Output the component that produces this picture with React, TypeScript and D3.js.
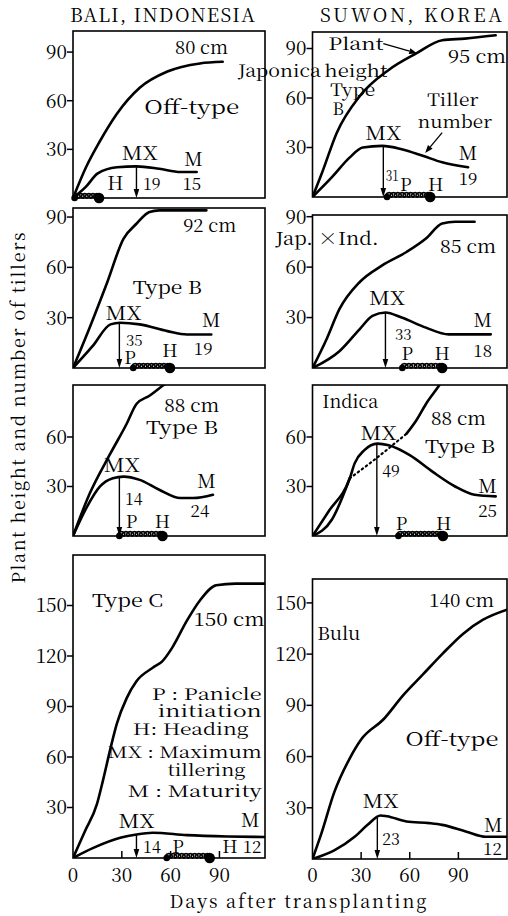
import React from "react";
import * as d3 from "d3";

// days after transplanting / plant height (cm) / tiller number

// Bali, off-type
const baliOffHeightDays = [0, 8, 16.5, 27, 41, 58, 78, 92];
const baliOffHeight = [0, 19, 35, 52, 68, 78, 83, 84];
const baliOffTillerDays = [0, 8, 15, 27, 39, 53, 66, 76];
const baliOffTiller = [0, 7, 15, 19, 19.5, 18, 16, 16];

// Suwon, Japonica type B
const japHeightDays = [0, 6, 15, 29, 47, 64, 80, 94, 113];
const japHeight = [0, 15, 39, 61, 77, 87, 95, 96, 98];
const japTillerDays = [0, 12, 23, 31, 43, 55, 68, 80, 96];
const japTiller = [0, 12, 24, 30, 31, 29, 25, 21, 18];

// Bali, type B (92 cm)
const baliB1HeightDays = [0, 10.4, 21, 31, 39, 47, 53, 82];
const baliB1Height = [0, 24.5, 51, 77, 86, 93, 94, 94];
const baliB1TillerDays = [0, 12, 23, 29, 41, 58, 70, 85];
const baliB1Tiller = [0, 13, 26, 27, 26, 22, 20, 20];

// Suwon, Jap. x Ind.
const jxiHeightDays = [0, 8.6, 16.6, 29, 43, 58, 70, 80, 88, 100];
const jxiHeight = [0, 17, 35, 51, 61, 69, 77, 86, 87, 87];
const jxiTillerDays = [0, 16.6, 29, 37, 45, 55, 70, 84, 110];
const jxiTiller = [0, 10, 23, 31, 33, 30, 24, 20, 20];

// Bali, type B (88 cm)
const baliB2HeightDays = [0, 10.4, 23, 33, 39, 47, 55, 62];
const baliB2Height = [0, 26, 50, 68, 80, 85, 91, 96];
const baliB2TillerDays = [0, 8.5, 16.6, 24.5, 31, 41, 53, 66, 74, 86];
const baliB2Tiller = [0, 17.5, 30, 35, 36, 34, 28, 23, 23, 25];

// Suwon, Indica type B (height dotted between 23 and 58 days)
const indHeightDays = [0, 12, 23, 36.6, 58, 64, 70, 78, 84];
const indHeight = [0, 10, 35, 45, 62, 70, 80, 91, 100];
const indTillerDays = [0, 10, 23, 26, 32, 40, 47, 60, 74, 88, 100, 113];
const indTiller = [0, 15, 35, 44, 52, 56, 55, 49, 39, 30, 25, 24];

// Bali, type C
const baliCHeightDays = [0, 7.4, 14.7, 18.4, 23, 27, 33, 39, 49, 55, 61, 70, 78, 88, 100, 118];
const baliCHeight = [0, 16, 32, 46, 65, 80, 95, 105, 113, 117, 125, 141, 153, 162, 163, 163];
const baliCTillerDays = [0, 12.5, 29, 39, 49, 70, 95, 118];
const baliCTiller = [0, 6, 12, 14, 15, 13.6, 12.8, 12.5];

// Suwon, Bulu off-type
const buluHeightDays = [0, 5.5, 13.4, 23, 30, 44, 56, 68, 80, 93, 105, 120];
const buluHeight = [0, 15, 39, 59, 70, 82, 96, 108, 120, 132, 140, 146];
const buluTillerDays = [0, 13.4, 26, 34, 42, 46, 58, 72, 80, 95, 107, 120];
const buluTiller = [0, 5, 13, 20, 25.5, 25, 22, 21, 20, 16, 13, 13];

// growth stages (days): maximum tillering, panicle initiation, heading
const mxDays = [39, 43.7, 28.5, 45, 28.5, 39.7, 39, 40];
const pDays = [1, 46, 37, 55.4, 28.5, 53, 57.6, null];
const hDays = [16, 72.6, 59.6, 80, 55, 80.5, 84, null];

const xTicks = [0, 30, 60, 90];

type Label = [string, number, number, "start" | "middle" | "end", number, number?];

interface Panel {
  col: number;
  top: number;
  bottom: number;
  ymax: number;
  ticks: number[];
  hd: number[];
  hv: number[];
  td: number[];
  tv: number[];
  labels: Label[];
  dotted?: [number, number];
  pointers?: [number, number][][];
  xAxis?: boolean;
}

const colX = [[73, 265], [312.5, 507]];
const colDays = [118, 120];
const FONT = "Noto Serif CJK JP";

const panels: Panel[] = [
  {
    col: 0, top: 31, bottom: 198, ymax: 103, ticks: [30, 60, 90],
    hd: baliOffHeightDays, hv: baliOffHeight, td: baliOffTillerDays, tv: baliOffTiller,
    labels: [
      ["80 cm", 79, 89, "middle", 18, 53],
      ["Off-type", 73, 52, "middle", 19, 95],
      ["MX", 41, 23.4, "middle", 19, 36],
      ["19", 43, 5, "start", 16],
      ["M", 74, 20, "middle", 19],
      ["15", 73, 5, "middle", 17],
      ["H", 26, 5, "middle", 19],
    ],
  },
  {
    col: 1, top: 32, bottom: 197, ymax: 100, ticks: [30, 60, 90],
    hd: japHeightDays, hv: japHeight, td: japTillerDays, tv: japTiller,
    labels: [
      ["Japonica", -46, 72.7, "start", 17, 83],
      ["Plant", 9.8, 89, "start", 17, 55],
      ["height", 7.3, 73, "start", 17, 63],
      ["Type", 11, 61.5, "start", 17, 45],
      ["B", 12.3, 49.5, "start", 17],
      ["Tiller", 70.8, 55, "start", 17, 51],
      ["number", 65, 42, "start", 17, 74],
      ["95 cm", 101.5, 81, "middle", 18, 58],
      ["MX", 43.7, 34.5, "middle", 19, 36],
      ["31", 45.2, 10, "start", 15, 13],
      ["P", 57.5, 3.5, "middle", 18],
      ["H", 76, 3.5, "middle", 18],
      ["M", 96, 22.4, "middle", 19],
      ["19", 96, 7.3, "middle", 17],
    ],
    pointers: [[[43.7, 93], [64.6, 87]], [[80, 39], [69.5, 26.7]]],
  },
  {
    col: 0, top: 208, bottom: 368, ymax: 95.4, ticks: [30, 60, 90],
    hd: baliB1HeightDays, hv: baliB1Height, td: baliB1TillerDays, tv: baliB1Tiller,
    labels: [
      ["92 cm", 84, 81, "middle", 18, 53],
      ["Type B", 58, 44, "middle", 18, 69],
      ["MX", 31, 28.6, "middle", 19, 36],
      ["35", 32.6, 13, "start", 15],
      ["P", 35, 2.5, "middle", 18],
      ["H", 59.6, 6.5, "middle", 18],
      ["M", 85, 24.4, "middle", 19],
      ["19", 80, 7.7, "middle", 17],
    ],
  },
  {
    col: 1, top: 215, bottom: 368, ymax: 91, ticks: [30, 60, 90],
    hd: jxiHeightDays, hv: jxiHeight, td: jxiTillerDays, tv: jxiTiller,
    labels: [
      ["Jap. ×Ind.", -22.8, 73, "start", 18, 103],
      ["85 cm", 96, 68.5, "middle", 18, 56],
      ["MX", 46, 37.5, "middle", 19, 36],
      ["33", 56, 16.5, "middle", 15],
      ["P", 58.5, 5, "middle", 18],
      ["H", 80, 5, "middle", 18],
      ["M", 105, 24.4, "middle", 19],
      ["18", 105, 6.5, "middle", 17],
    ],
  },
  {
    col: 0, top: 385, bottom: 536, ymax: 91.5, ticks: [30, 60],
    hd: baliB2HeightDays, hv: baliB2Height, td: baliB2TillerDays, tv: baliB2Tiller,
    labels: [
      ["88 cm", 73, 75, "middle", 18, 55],
      ["Type B", 67, 62, "middle", 18, 72],
      ["MX", 30, 39, "middle", 19, 36],
      ["14", 32, 19, "start", 16],
      ["P", 36, 5, "middle", 18],
      ["H", 55, 5, "middle", 18],
      ["M", 82, 29, "middle", 19],
      ["24", 78, 11.5, "middle", 17],
    ],
  },
  {
    col: 1, top: 385, bottom: 536, ymax: 91.5, ticks: [30, 60],
    hd: indHeightDays, hv: indHeight, td: indTillerDays, tv: indTiller,
    dotted: [23, 58],
    labels: [
      ["Indica", 6, 77.6, "start", 18, 56],
      ["88 cm", 90, 67, "middle", 18, 55],
      ["Type B", 91, 50, "middle", 18, 70],
      ["MX", 40.7, 58, "middle", 19, 36],
      ["49", 43, 36, "start", 16],
      ["P", 55, 3.6, "middle", 18],
      ["H", 81, 3.6, "middle", 18],
      ["M", 108, 26, "middle", 19],
      ["25", 108, 11.5, "middle", 17],
    ],
  },
  {
    col: 0, top: 555, bottom: 858, ymax: 180, ticks: [30, 60, 90, 120, 150], xAxis: true,
    hd: baliCHeightDays, hv: baliCHeight, td: baliCTillerDays, tv: baliCTiller,
    labels: [
      ["Type C", 11.7, 149, "start", 18, 71],
      ["150 cm", 74, 138, "start", 18, 71],
      ["P : Panicle", 116, 93.6, "end", 16, 110],
      ["initiation", 116, 83.6, "end", 16, 104],
      ["H: Heading", 108, 73, "end", 16, 116],
      ["MX : Maximum", 116, 59.3, "end", 16, 154],
      ["tillering", 106, 49, "end", 16, 78],
      ["M : Maturity", 116, 36, "end", 16, 134],
      ["MX", 39, 17.8, "middle", 19, 36],
      ["14", 48.5, 3, "middle", 16],
      ["P", 64.5, 3, "middle", 18],
      ["H", 96.5, 3, "middle", 18],
      ["12", 110, 3, "middle", 17],
      ["M", 109, 18.4, "middle", 19],
    ],
  },
  {
    col: 1, top: 579, bottom: 859, ymax: 164, ticks: [30, 60, 90, 120, 150], xAxis: true,
    hd: buluHeightDays, hv: buluHeight, td: buluTillerDays, tv: buluTiller,
    labels: [
      ["140 cm", 92, 147.6, "middle", 18, 65],
      ["Bulu", 3, 128, "start", 18, 43],
      ["Off-type", 86, 66, "middle", 19, 93],
      ["MX", 42, 30, "middle", 19, 36],
      ["23", 43, 8, "start", 16],
      ["M", 111.5, 16, "middle", 19],
      ["12", 111, 2.3, "middle", 17],
    ],
  },
];

function interp(ds: number[], vs: number[], d: number) {
  for (let i = 0; i < ds.length - 1; i++) {
    if (d >= ds[i] && d <= ds[i + 1]) {
      const t = (d - ds[i]) / (ds[i + 1] - ds[i]);
      return vs[i] + t * (vs[i + 1] - vs[i]);
    }
  }
  return vs[vs.length - 1];
}

// coiled line between panicle initiation and heading
function coil(xa: number, xb: number, y0: number) {
  const n = Math.max(1, Math.round((xb - xa) / 4.2));
  const r = 2.2;
  const pts: [number, number][] = d3.range(0, n * 24 + 1).map((k) => {
    const th = (k / 24) * Math.PI * 2;
    return [xa + ((xb - xa) * th) / (Math.PI * 2 * n) - r * Math.sin(th), y0 - r * (1 - Math.cos(th))];
  });
  return d3.line()(pts) || "";
}

function PanelView({ pn, idx }: { pn: Panel; idx: number }) {
  const [x0, x1] = colX[pn.col];
  const x = d3.scaleLinear().domain([0, colDays[pn.col]]).range([x0, x1]);
  const y = d3.scaleLinear().domain([0, pn.ymax]).range([pn.bottom, pn.top]);
  const line = d3
    .line<[number, number]>()
    .x((d) => x(d[0]))
    .y((d) => y(d[1]))
    .curve(d3.curveMonotoneX);

  const hPts: [number, number][] = pn.hd.map((d, i) => [d, pn.hv[i]]);
  const tPts: [number, number][] = pn.td.map((d, i) => [d, pn.tv[i]]);

  const heightPaths: { d: string; dotted: boolean }[] = [];
  if (pn.dotted) {
    const [a, b] = pn.dotted;
    heightPaths.push({ d: line(hPts.filter((p) => p[0] <= a)) || "", dotted: false });
    heightPaths.push({ d: line(hPts.filter((p) => p[0] >= a && p[0] <= b)) || "", dotted: true });
    heightPaths.push({ d: line(hPts.filter((p) => p[0] >= b)) || "", dotted: false });
  } else {
    heightPaths.push({ d: line(hPts) || "", dotted: false });
  }

  const mx = mxDays[idx];
  const mxX = x(mx);
  const mxY = y(interp(pn.td, pn.tv, mx));
  const p = pDays[idx];
  const h = hDays[idx];
  const clipId = `clip${idx}`;

  return (
    <g>
      <defs>
        <clipPath id={clipId}>
          <rect x={x0} y={pn.top} width={x1 - x0} height={pn.bottom - pn.top} />
        </clipPath>
      </defs>
      <rect x={x0} y={pn.top} width={x1 - x0} height={pn.bottom - pn.top} fill="none" stroke="#000" strokeWidth={1.6} />
      {pn.ticks.map((t) => (
        <g key={t}>
          <line x1={x0 - 6} x2={x0} y1={y(t)} y2={y(t)} stroke="#000" strokeWidth={1.5} />
          <text x={x0 - 6} y={y(t)} dy="0.36em" textAnchor="end" fontSize={19} fontFamily={FONT}>
            {t}
          </text>
        </g>
      ))}
      {pn.xAxis &&
        xTicks.map((t) => (
          <g key={"x" + t}>
            {t > 0 && <line x1={x(t)} x2={x(t)} y1={pn.bottom} y2={pn.bottom - 7} stroke="#000" strokeWidth={1.5} />}
            <text x={x(t)} y={882} textAnchor="middle" fontSize={19} fontFamily={FONT}>
              {t}
            </text>
          </g>
        ))}
      <g clipPath={`url(#${clipId})`}>
        {heightPaths.map((hp, i) => (
          <path
            key={i}
            d={hp.d}
            fill="none"
            stroke="#000"
            strokeWidth={hp.dotted ? 2.2 : 2.6}
            strokeDasharray={hp.dotted ? "1.5 3.5" : undefined}
            strokeLinecap="round"
          />
        ))}
        <path d={line(tPts) || ""} fill="none" stroke="#000" strokeWidth={2.6} strokeLinecap="round" />
      </g>
      {/* maximum tillering arrow */}
      <line x1={mxX} x2={mxX} y1={mxY} y2={pn.bottom - 7} stroke="#000" strokeWidth={1.4} />
      <polygon points={`${mxX - 2.8},${pn.bottom - 9} ${mxX + 2.8},${pn.bottom - 9} ${mxX},${pn.bottom}`} fill="#000" />
      {p !== null && h !== null && (
        <g>
          <path d={coil(x(p), x(h), pn.bottom)} fill="none" stroke="#000" strokeWidth={1.6} />
          <circle cx={x(p)} cy={pn.bottom} r={3.3} fill="#000" />
          <circle cx={x(h)} cy={pn.bottom} r={5.3} fill="#000" />
        </g>
      )}
      {pn.pointers &&
        pn.pointers.map((seg, i) => {
          const [a, b] = seg;
          const ax = x(a[0]), ay = y(a[1]), bx = x(b[0]), by = y(b[1]);
          const ang = Math.atan2(by - ay, bx - ax);
          const L = 8, W = 3;
          const bx0 = bx - L * Math.cos(ang), by0 = by - L * Math.sin(ang);
          const px = -Math.sin(ang) * W, py = Math.cos(ang) * W;
          return (
            <g key={"ptr" + i}>
              <line x1={ax} y1={ay} x2={bx0} y2={by0} stroke="#000" strokeWidth={1.3} />
              <polygon points={`${bx},${by} ${bx0 + px},${by0 + py} ${bx0 - px},${by0 - py}`} fill="#000" />
            </g>
          );
        })}
      {pn.labels.map(([txt, d, v, anchor, size, len], i) => (
        <text
          key={"l" + i}
          x={x(d)}
          y={y(v)}
          textAnchor={anchor}
          fontSize={size}
          fontFamily={FONT}
          textLength={len}
          lengthAdjust={len ? "spacingAndGlyphs" : undefined}
        >
          {txt}
        </text>
      ))}
    </g>
  );
}

export default function App() {
  return (
    <svg
      width={508}
      height={916}
      viewBox="0 0 508 916"
      style={{ position: "absolute", left: 0, top: 0, background: "#fff" }}
    >
      <rect width={508} height={916} fill="#fff" />
      <text x={70} y={22} fontSize={19} fontFamily={FONT} textLength={185} lengthAdjust="spacing">
        BALI, INDONESIA
      </text>
      <text x={320} y={22} fontSize={19} fontFamily={FONT} textLength={182} lengthAdjust="spacing">
        SUWON, KOREA
      </text>
      <text
        transform="translate(25,408) rotate(-90)"
        textAnchor="middle"
        fontSize={18}
        fontFamily={FONT}
        textLength={351}
        lengthAdjust="spacing"
      >
        Plant height and number of tillers
      </text>
      <text x={298} y={908} textAnchor="middle" fontSize={18} fontFamily={FONT} textLength={257} lengthAdjust="spacing">
        Days after transplanting
      </text>
      {panels.map((pn, i) => (
        <PanelView key={i} pn={pn} idx={i} />
      ))}
    </svg>
  );
}
